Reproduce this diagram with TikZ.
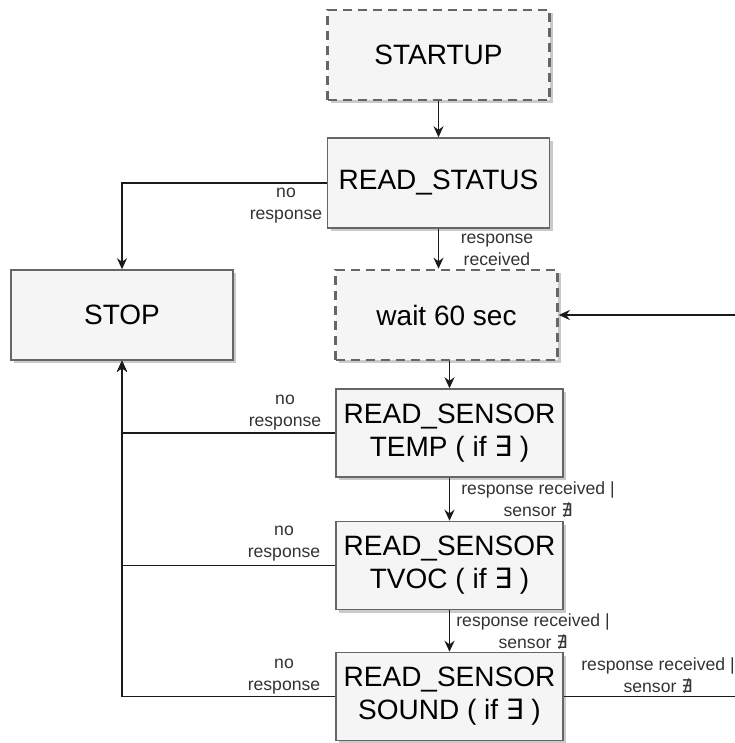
\documentclass[tikz,border=0pt]{standalone}
\usepackage{fontspec}
\setmainfont{Liberation Sans}
\newfontfamily\symfont{DejaVu Sans}
\usepackage{tikz}
\usetikzlibrary{arrows.meta,shadows}
\definecolor{boxfill}{HTML}{F5F5F5}
\definecolor{boxline}{HTML}{666666}
\definecolor{wire}{HTML}{1A1A1A}
\definecolor{lbltext}{HTML}{333333}
\newcommand{\exsym}{{\symfont ∃}}
\newcommand{\nexsym}{{\symfont ∄}}
\tikzset{
  stbox/.style={draw=boxline,fill=boxfill,line width=0.75pt,rectangle,
    minimum width=111pt,minimum height=45pt,align=center,
    font=\fontsize{14}{16.5}\selectfont,
    drop shadow={shadow xshift=1.5pt,shadow yshift=-1.5pt,opacity=0.35,fill=black!60}},
  dashbox/.style={stbox,line width=1.3pt,dash pattern=on 4.5pt off 3pt},
  sensbox/.style={stbox,minimum width=113.5pt,minimum height=44pt},
  lbl/.style={font=\fontsize{8.8}{11}\selectfont,text=lbltext,align=center,inner sep=0pt},
  link/.style={draw=wire,line width=0.8pt,->}
}

\begin{document}
\begin{tikzpicture}[x=0.5pt,y=-0.5pt,>={Stealth[length=5.5pt,width=5pt]}]
\useasboundingbox (0,0) rectangle (734,743);
\node [dashbox] (startup) at(438.5,55){STARTUP};
\node [stbox] (status) at(438.5,183){READ\_STATUS};
\node [stbox] (stop) at(122,315){STOP};
\node [dashbox] (wait) at(446.5,315){wait 60 sec};
\node [sensbox] (temp) at(449.5,433){READ\_SENSOR\\TEMP ( if \exsym\ )};
\node [sensbox] (tvoc) at(449.5,565.5){READ\_SENSOR\\TVOC ( if \exsym\ )};
\node [sensbox] (sound) at(449.5,696.5){READ\_SENSOR\\SOUND ( if \exsym\ )};
\coordinate (loopright) at(738,500);
% labels
\node [lbl] (nr1) at(286,206){no\\response};
\node [lbl] (nr2) at(285,413){no\\response};
\node [lbl] (nr3) at(284,544){no\\response};
\node [lbl] (nr4) at(284,677){no\\response};
\node [lbl] (rr1) at(497,250){response\\received};
\node [lbl] (rr2) at(538,500){response received |\\sensor \nexsym};
\node [lbl] (rr3) at(533,632){response received |\\sensor \nexsym};
\node [lbl] (rr4) at(658,676){response received |\\sensor \nexsym};
% connectors
\draw[link](startup) -- (status);
\draw[link](status.west) -| (stop.north);
\draw[link](status.south) -- (status.south |- wait.north);
\draw[link](wait.south -| temp.north) -- (temp.north);
\draw[link](temp.west) -| (stop.south);
\draw[link](tvoc.west) -| (stop.south);
\draw[link](sound.west) -| (stop.south);
\draw[link](temp) -- (tvoc);
\draw[link](tvoc) -- (sound);
\draw[link](sound.east) -| (loopright) |- (wait.east);
\end{tikzpicture}
\end{document}
